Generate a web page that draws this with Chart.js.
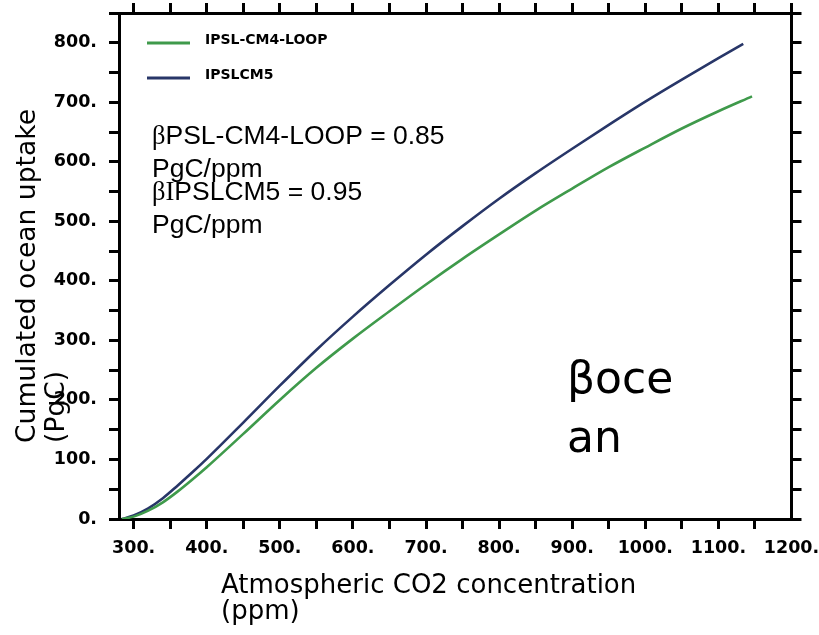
<!DOCTYPE html>
<html>
<head>
<meta charset="utf-8">
<script src="https://cdn.jsdelivr.net/npm/chart.js@4/dist/chart.umd.min.js"></script>
<style>
  html, body { margin: 0; padding: 0; background: #ffffff; }
  #wrap { width: 819px; height: 635px; }
</style>
</head>
<body>
<div id="wrap"><canvas id="c" width="819" height="635"></canvas></div>
<script>
// Atmospheric CO2 (ppm) and cumulated ocean carbon uptake (PgC) for each model run
const co2Cm4Loop = [284, 300, 320, 340, 360, 380, 400, 450, 500, 550, 600, 650, 700, 750, 800, 850, 900, 950, 1000, 1050, 1100, 1146];
const uptakeCm4Loop = [0, 4, 14, 28, 46, 66, 87, 143, 200, 254, 303, 349, 394, 437, 478, 518, 555, 591, 624, 656, 685, 710];

const co2Cm5 = [284, 300, 320, 340, 360, 380, 400, 450, 500, 550, 600, 650, 700, 750, 800, 850, 900, 950, 1000, 1050, 1100, 1134];
const uptakeCm5 = [0, 6, 18, 35, 56, 78, 101, 162, 224, 284, 340, 393, 444, 492, 538, 581, 622, 662, 701, 738, 774, 798];

const seriesNames = ['IPSL-CM4-LOOP', 'IPSLCM5'];
const seriesColors = ['#3f9a4b', '#283668'];

// Axis ranges and tick positions (labels on every 100, marks on every 50)
const xRange = [280, 1200];
const yRange = [0, 850];
const xTickValues = [300, 350, 400, 450, 500, 550, 600, 650, 700, 750, 800, 850, 900, 950, 1000, 1050, 1100, 1150, 1200];
const yTickValues = [0, 50, 100, 150, 200, 250, 300, 350, 400, 450, 500, 550, 600, 650, 700, 750, 800, 850];

const xTitleLines = ['Atmospheric CO2 concentration', '(ppm)'];
const yTitleLines = ['Cumulated ocean uptake', '(PgC)'];
const betaBlocks = [
  [[['β', 'serif'], ['PSL-CM4-LOOP = 0.85', 'sans']], [['PgC/ppm', 'sans']]],
  [[['βI', 'serif'], ['PSLCM5 = 0.95', 'sans']], [['PgC/ppm', 'sans']]]
];
const panelLabelLines = ['βoce', 'an'];

const toPoints = (xs, ys) => xs.map((x, i) => ({ x: x, y: ys[i] }));

const tickFont = { family: 'DejaVu Sans', size: 17.5, weight: 'bold' };
const fixSize = (dim, value) => (scale) => {
  scale[dim] = value;
  scale.paddingLeft = 0; scale.paddingRight = 0;
  scale.paddingTop = 0; scale.paddingBottom = 0;
};
const setTicks = (values) => (scale) => { scale.ticks = values.map(v => ({ value: v })); };
const hundredLabel = (v) => (v % 100 === 0 ? v + '.' : '');

const axisCommon = {
  type: 'linear',
  border: { display: true, color: '#000', width: 3 },
};

// Text overlays: axis titles, legend, sensitivity values and panel label
const overlay = {
  id: 'overlay',
  afterDraw(chart) {
    const ctx = chart.ctx;
    ctx.save();
    ctx.fillStyle = '#000';
    ctx.textBaseline = 'alphabetic';
    ctx.textAlign = 'left';

    // x-axis title
    ctx.font = '26px "DejaVu Sans"';
    ctx.fillText(xTitleLines[0], 221, 593);
    ctx.fillText(xTitleLines[1], 221, 619);

    // y-axis title (rotated)
    ctx.save();
    ctx.font = '26.6px "DejaVu Sans"';
    ctx.translate(35, 443);
    ctx.rotate(-Math.PI / 2);
    ctx.fillText(yTitleLines[0], 0, 0);
    ctx.fillText(yTitleLines[1], 0, 29);
    ctx.restore();

    // legend
    const legendY = [43, 78];
    chart.data.datasets.forEach((ds, i) => {
      ctx.strokeStyle = ds.borderColor;
      ctx.lineWidth = 3;
      ctx.beginPath();
      ctx.moveTo(147, legendY[i]);
      ctx.lineTo(190, legendY[i]);
      ctx.stroke();
      ctx.fillStyle = '#000';
      ctx.font = 'bold 14px "DejaVu Sans"';
      ctx.textBaseline = 'middle';
      ctx.fillText(ds.label, 205, legendY[i] - 3);
    });
    ctx.textBaseline = 'alphabetic';

    // sensitivity values
    const blockY = [143.5, 199.5];
    betaBlocks.forEach((block, b) => {
      block.forEach((line, l) => {
        let x = 152;
        const y = blockY[b] + l * 33.5;
        line.forEach(([txt, kind]) => {
          ctx.font = kind === 'serif' ? '26.5px "Liberation Serif"' : '26.5px "Liberation Sans"';
          ctx.fillText(txt, x, y);
          x += ctx.measureText(txt).width;
        });
      });
    });

    // panel label
    ctx.font = '44px "DejaVu Sans"';
    ctx.fillText(panelLabelLines[0], 567, 393);
    ctx.fillText(panelLabelLines[1], 567, 452);
    ctx.restore();
  }
};

new Chart(document.getElementById('c'), {
  type: 'line',
  data: {
    datasets: [
      {
        label: seriesNames[0],
        data: toPoints(co2Cm4Loop, uptakeCm4Loop),
        borderColor: seriesColors[0],
        borderWidth: 2.6,
        pointRadius: 0,
        cubicInterpolationMode: 'monotone',
        fill: false,
        xAxisID: 'x', yAxisID: 'y'
      },
      {
        label: seriesNames[1],
        data: toPoints(co2Cm5, uptakeCm5),
        borderColor: seriesColors[1],
        borderWidth: 2.6,
        pointRadius: 0,
        cubicInterpolationMode: 'monotone',
        fill: false,
        xAxisID: 'x', yAxisID: 'y'
      }
    ]
  },
  options: {
    responsive: false,
    devicePixelRatio: 1,
    animation: false,
    layout: { padding: 0 },
    plugins: { legend: { display: false }, tooltip: { enabled: false } },
    scales: {
      x: Object.assign({}, axisCommon, {
        position: 'bottom', min: xRange[0], max: xRange[1],
        afterBuildTicks: setTicks(xTickValues),
        afterFit: fixSize('height', 116),
        grid: {
          drawOnChartArea: false, drawTicks: true, tickLength: 10, lineWidth: 3,
          color: (c) => (c.tick && c.tick.value === xRange[1] ? 'rgba(0,0,0,0)' : '#000')
        },
        ticks: { color: '#000', font: tickFont, padding: 9, maxRotation: 0, autoSkip: false, callback: hundredLabel }
      }),
      x2: Object.assign({}, axisCommon, {
        position: 'top', min: xRange[0], max: xRange[1],
        afterBuildTicks: setTicks(xTickValues),
        afterFit: fixSize('height', 13),
        grid: { drawOnChartArea: false, drawTicks: true, tickLength: 10, lineWidth: 3, color: '#000' },
        ticks: { display: false }
      }),
      y: Object.assign({}, axisCommon, {
        position: 'left', min: yRange[0], max: yRange[1],
        afterBuildTicks: setTicks(yTickValues),
        afterFit: fixSize('width', 119),
        grid: { drawOnChartArea: false, drawTicks: true, tickLength: 10, lineWidth: 3, color: '#000' },
        ticks: { color: '#000', font: tickFont, padding: 12, autoSkip: false, callback: hundredLabel }
      }),
      y2: Object.assign({}, axisCommon, {
        position: 'right', min: yRange[0], max: yRange[1],
        afterBuildTicks: setTicks(yTickValues),
        afterFit: fixSize('width', 27.5),
        grid: { drawOnChartArea: false, drawTicks: true, tickLength: 10, lineWidth: 3, color: '#000' },
        ticks: { display: false }
      })
    }
  },
  plugins: [overlay]
});
</script>
</body>
</html>
